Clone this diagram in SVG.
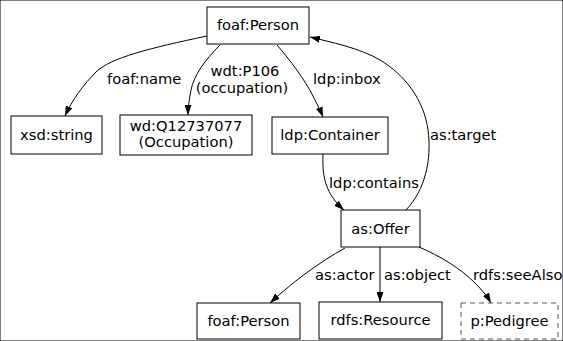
<svg xmlns="http://www.w3.org/2000/svg" width="563" height="341" viewBox="0 0 563 341">
<style>
text{font-family:"DejaVu Sans",sans-serif;font-size:14.7px;fill:#000}
.n{text-anchor:middle}
rect{fill:#fff;stroke:#000;stroke-width:1}
rect.d{stroke:#555;stroke-dasharray:5,4}
.e path{fill:none;stroke:#000;stroke-width:1;marker-end:url(#a)}
</style>
<defs>
<marker id="a" viewBox="0 0 10 7" refX="10" refY="3.5" markerWidth="10" markerHeight="7" markerUnits="userSpaceOnUse" orient="auto">
<path d="M0,0 L10,3.5 L0,7 z" fill="#000"/>
</marker>
</defs>
<rect width="563" height="341" fill="#fff" stroke="none"/>
<g class="e" id="edges">
<path d="M207,36 C150,48 110,58 96,72 C84,84 72,100 65,116"/>
<path d="M220,45 C205,60 194,75 191,90 C189,100 188,108 188,115"/>
<path d="M277,45 C290,60 305,80 313,96 C318,106 321,112 323,117"/>
<path d="M406,210 C425,190 432,160 428,130 C424,100 405,75 380,60 C360,48 330,42 310,37"/>
<path d="M323,154 C322,178 326,194 344,210"/>
<path d="M345,248 C320,262 295,280 270,303"/>
<path d="M380,247 L380,302"/>
<path d="M419,247 C440,256 460,268 475,283 C482,290 487,296 491,303"/>
<text x="107" y="84">foaf:name</text>
<text x="245" y="76" class="n">wdt:P106</text>
<text x="242" y="92.5" class="n">(occupation)</text>
<text x="313" y="84">ldp:inbox</text>
<text x="430" y="140">as:target</text>
<text x="329" y="188">ldp:contains</text>
<text x="315" y="280">as:actor</text>
<text x="384" y="280">as:object</text>
<text x="473" y="280">rdfs:seeAlso</text>
</g>
<g id="person1"><rect x="207" y="7" width="102" height="37"/><text x="258" y="30" class="n">foaf:Person</text></g>
<g id="xsdstring"><rect x="11" y="116" width="91" height="38"/><text x="56.5" y="140" class="n">xsd:string</text></g>
<g id="occupation"><rect x="120" y="115" width="132" height="40"/><text x="186" y="131" class="n">wd:Q12737077</text><text x="186" y="147" class="n">(Occupation)</text></g>
<g id="container"><rect x="272" y="117" width="116" height="37"/><text x="330" y="140" class="n">ldp:Container</text></g>
<g id="offer"><rect x="341" y="210" width="79" height="37"/><text x="380.5" y="234" class="n">as:Offer</text></g>
<g id="person2"><rect x="197" y="303" width="103" height="36"/><text x="248.5" y="326" class="n">foaf:Person</text></g>
<g id="resource"><rect x="319" y="302" width="123" height="37"/><text x="380.5" y="325" class="n">rdfs:Resource</text></g>
<g id="pedigree"><rect class="d" x="461" y="303" width="97" height="36"/><text x="509.5" y="326" class="n">p:Pedigree</text></g>
</svg>
